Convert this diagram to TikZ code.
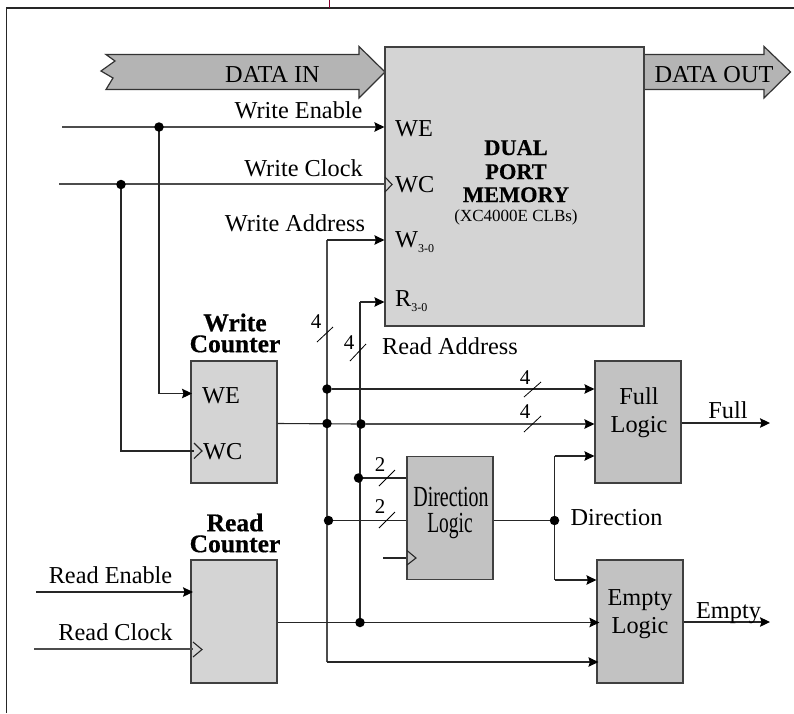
\documentclass[tikz,border=0pt]{standalone}
\usepackage{fontspec}
\setmainfont[BoldFeatures={FakeBold=0.5}]{Liberation Serif}
\usetikzlibrary{arrows.meta}
\definecolor{lightb}{HTML}{D4D4D4}
\definecolor{darkb}{HTML}{C2C2C2}
\definecolor{darkc}{HTML}{B4B4B4}
\pgfdeclarelayer{dots}
\pgfsetlayers{main,dots}
\tikzset{
  ln/.style={draw=black!85,line width=1.1pt},
  gl/.style={draw=black!70,line width=1.4pt},
  tip/.style={-{Stealth[length=10pt,width=9.5pt,inset=1.5pt,color=black]}},
  arr/.style={ln,tip},
  garr/.style={gl,tip},
  boxa/.style={draw=black!75,line width=1.2pt,fill=lightb,minimum width=86pt,minimum height=123pt,inner sep=0pt},
  boxb/.style={boxa,fill=darkb},
  big/.style={draw=black!80,line width=1.2pt,fill=darkc},
  lab/.style={inner sep=0pt,anchor=base,font=\fontsize{24.3}{26}\selectfont},
  labl/.style={lab,anchor=base west},
  blab/.style={inner sep=0pt,align=center,font=\fontsize{25.5}{21}\selectfont\bfseries},
  mlab/.style={lab,font=\fontsize{22.4}{26}\selectfont\bfseries},
  dotn/.style={circle,fill=black,inner sep=0pt,minimum size=9.5pt},
  slash/.style={draw=black,line width=.8pt},
  num/.style={inner sep=0pt,font=\fontsize{21}{24}\selectfont},
  clk/.style={draw=black!85,line width=1.1pt}
}
\newcommand{\subt}[1]{\raisebox{-5.5pt}{\fontsize{12}{12}\selectfont #1}}
\begin{document}
\begin{tikzpicture}[x=1pt,y=-1pt]
\useasboundingbox (0,0) rectangle (794,713);
\fill[white] (0,0) rectangle (794,713);
% frame
\draw[black!85,line width=1.2pt] (6.5,713) -- (6.5,8) -- (794,8);
\draw[purple!70!black,line width=.8pt] (329,0) -- (329,8);
% bus arrows
\draw[big] (106,54.5) -- (359,54.5) -- (359,46.5) -- (385,72) -- (359,98) -- (359,89.5) -- (106,89.5) -- (113,78) -- (101,71) -- (115,61) -- cycle;
\draw[big] (644,54.5) -- (764,54.5) -- (764,46.5) -- (790.5,72) -- (764,98) -- (764,89.5) -- (644,89.5) -- cycle;
% blocks
\node[boxa,minimum width=259pt,minimum height=279pt] (mem) at (514.5,186.5) {};
\node[boxa,minimum height=122pt] (wcnt) at (234,422) {};
\node[boxa] (rcnt) at (234,621.5) {};
\node[boxb,minimum height=122pt] (full) at (638,422) {};
\node[boxb] (empty) at (640,621.5) {};
\node[boxb] (dir) at (450,518) {};
% coordinates
\coordinate (weIn) at (62,127);
\coordinate (wcIn) at (59,184);
\coordinate (reIn) at (36,592);
\coordinate (rcIn) at (34,649);
\coordinate (fullOut) at (770,423);
\coordinate (emptyOut) at (770,622);
\coordinate (dirClk) at (383,558);
\coordinate (wTop) at (327,240);
\coordinate (rTop) at (360,302);
\coordinate (wBot) at (327,662);
\coordinate (dTop) at (554.5,456);
\coordinate (dBot) at (554.5,580);
\coordinate (a1) at (159,393.5);
\coordinate (a2) at (121,451);
\coordinate (wcEnd) at (385,184);
\coordinate (wcntClk) at (194,451);
\coordinate (rcntClk) at (193,649);
\coordinate (reEnd) at (193,592);
\coordinate (a1End) at (192,393.5);
\begin{pgfonlayer}{dots}
\node[dotn] (j1) at (159,127) {};
\node[dotn] (j2) at (121,184.5) {};
\node[dotn] (j3) at (327,389) {};
\node[dotn] (j4) at (327,423.5) {};
\node[dotn] (j5) at (361,424) {};
\node[dotn] (j6) at (358.5,478) {};
\node[dotn] (j7) at (328.5,520.5) {};
\node[dotn] (j8) at (554.5,520.5) {};
\node[dotn] (j9) at (360,622.5) {};
\end{pgfonlayer}
% connectors
\draw[garr] (weIn) -- (weIn -| mem.west);
\draw[gl] (wcIn) -- (wcEnd);
\draw[ln] (j1.center) -- (a1);
\draw[arr] (a1) -- (a1End);
\draw[ln] (j2.center) -- (a2) -- (wcntClk);
\draw[gl] (wBot) -- (wTop);
\draw[arr] (wTop) -- (wTop -| mem.west);
\draw[ln] (j9.center) -- (rTop);
\draw[arr] (rTop) -- (rTop -| mem.west);
\draw[ln] (wcnt.east |- j4) -- (j5);
\draw[arr] (j3) -- (j3 -| full.west);
\draw[garr] (j5) -- (j5 -| full.west);
\draw[ln] (j6) -- (j6 -| dir.west);
\draw[ln] (j7) -- (j7 -| dir.west);
\draw[ln] (dir.east |- j8) -- (j8);
\draw[ln] (dTop) -- (dBot);
\draw[arr] (dTop) -- (dTop -| full.west);
\draw[arr] (dBot) -- (dBot -| empty.west);
\draw[arr] (full.east |- fullOut) -- (fullOut);
\draw[arr] (empty.east |- emptyOut) -- (emptyOut);
\draw[arr] (reIn) -- (reEnd);
\draw[gl] (rcIn) -- (rcntClk);
\draw[arr] (rcnt.east |- j9) -- ([xshift=3pt]j9 -| empty.west);
\draw[arr] (wBot) -- ([xshift=2pt]wBot -| empty.west);
\draw[ln] (dirClk) -- (dirClk -| dir.west);
% clock triangles
\draw[clk] (385,177) -- (392,184.5) -- (385,192);
\draw[clk] (194,443) -- (202,451) -- (194,458.5);
\draw[clk] (193,642) -- (202,649.5) -- (193,657);
\draw[clk] (407,550.5) -- (416,558) -- (407,565);
% bus slashes
\draw[slash] (317,342) -- (333,327);
\draw[slash] (350,361) -- (366,344);
\draw[slash] (524,397) -- (541,382);
\draw[slash] (524,432) -- (541,416);
\draw[slash] (379,486) -- (395,470);
\draw[slash] (379,528) -- (395,512);
\node[num] (n1) at (316,322) {4};
\node[num] (n2) at (349,343) {4};
\node[num] (n3) at (525,378) {4};
\node[num] (n4) at (525,412) {4};
\node[num] (n5) at (380,465) {2};
\node[num] (n6) at (380,507) {2};
% labels
\node[lab] (t1) at (272.5,82) {DATA IN};
\node[lab] (t2) at (714,82) {DATA OUT};
\node[lab] (t3) at (298.5,118) {Write Enable};
\node[lab] (t4) at (303.5,176) {Write Clock};
\node[lab] (t5) at (295,231) {Write Address};
\node[lab] (t6) at (450,354) {Read Address};
\node[labl] (t7) at (395,136) {WE};
\node[labl] (t8) at (395,192) {WC};
\node[labl] (t9) at (395,247) {W\subt{3-0}};
\node[labl] (t10) at (395,306) {R\subt{3-0}};
\node[mlab] (m1) at (516,155) {DUAL};
\node[mlab] (m2) at (516,179) {PORT};
\node[mlab] (m3) at (516,202) {MEMORY};
\node[lab,font=\fontsize{17}{18}\selectfont] (m4) at (516,221) {(XC4000E CLBs)};
\node[blab] (c1) at (235,333) {Write\\Counter};
\node[blab] (c3) at (235,533) {Read\\Counter};
\node[labl] (c5) at (202,403) {WE};
\node[labl] (c6) at (203,459) {WC};
\node[lab] (f1) at (639,404) {Full};
\node[lab] (f2) at (639,432) {Logic};
\node[lab] (f3) at (728,418) {Full};
\node[lab] (e1) at (640,605) {Empty};
\node[lab] (e2) at (640,633) {Logic};
\node[lab] (e3) at (728.5,618) {Empty};
\node[lab] (d1) at (451,506) {\scalebox{.82}[1.2]{Direction}};
\node[lab] (d2) at (450,532) {\scalebox{.8}[1.2]{Logic}};
\node[lab] (d3) at (616.5,525) {Direction};
\node[lab] (r1) at (110.5,583) {Read Enable};
\node[lab] (r2) at (115.5,640) {Read Clock};
\end{tikzpicture}
\end{document}
